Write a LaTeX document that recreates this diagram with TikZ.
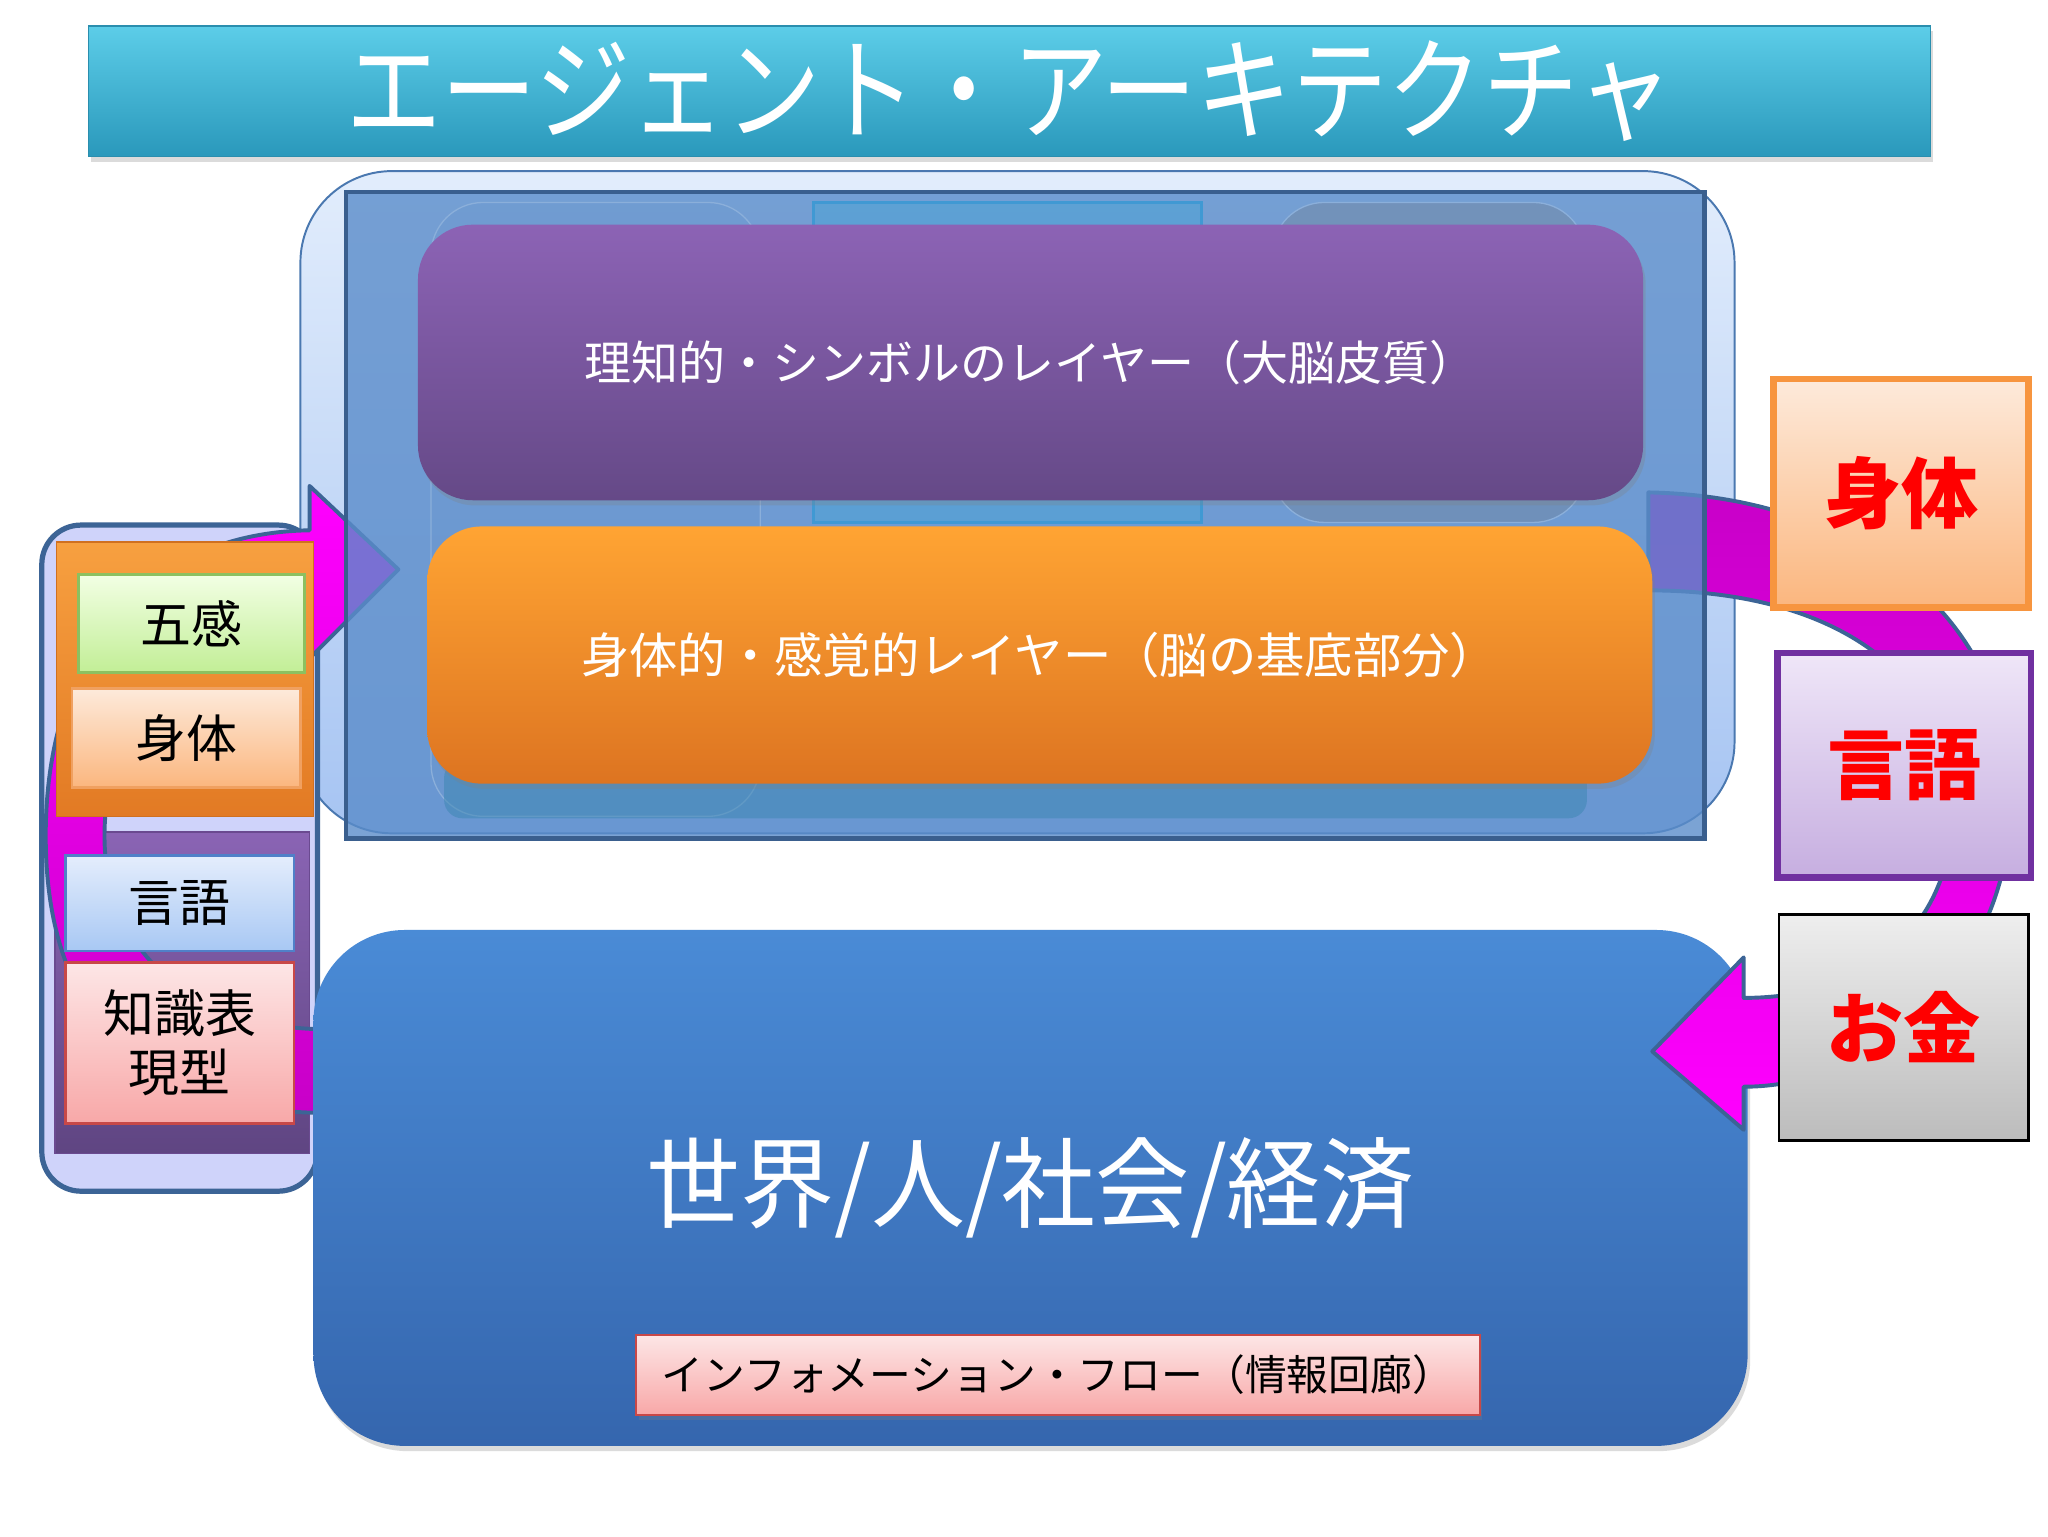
\documentclass[tikz,border=0pt]{standalone}
\usepackage{fontspec}
\setmainfont{Noto Sans CJK JP}
\usetikzlibrary{shadows}
\definecolor{edgeblue}{HTML}{3C6496}
\definecolor{titletop}{HTML}{5CCDE8}
\definecolor{titlebot}{HTML}{2A98BB}
\definecolor{titleedge}{HTML}{2A8EAE}
\definecolor{outertop}{HTML}{E2EDFC}
\definecolor{outerbot}{HTML}{A6C4F2}
\definecolor{outeredge}{HTML}{4A78B0}
\definecolor{lavender}{HTML}{CFD3FA}
\definecolor{lpurptop}{HTML}{8A64B4}
\definecolor{lpurpbot}{HTML}{5F4582}
\definecolor{lpurpedge}{HTML}{6A4A90}
\definecolor{lorangetop}{HTML}{F7A040}
\definecolor{lorangebot}{HTML}{E27A24}
\definecolor{lorangeedge}{HTML}{D07020}
\definecolor{greentop}{HTML}{F2FFE4}
\definecolor{greenbot}{HTML}{C2EE96}
\definecolor{greenedge}{HTML}{8CC060}
\definecolor{peachtop}{HTML}{FDEADB}
\definecolor{peachbot}{HTML}{FBB67E}
\definecolor{peachedge}{HTML}{F0A060}
\definecolor{bluetop}{HTML}{E4EDFC}
\definecolor{bluebot}{HTML}{A8C8F4}
\definecolor{bluebedge}{HTML}{5080C8}
\definecolor{pinktop}{HTML}{FDE6E6}
\definecolor{pinkbot}{HTML}{F8A8A8}
\definecolor{pinkedge}{HTML}{C84848}
\definecolor{worldtop}{HTML}{4A8BD6}
\definecolor{worldbot}{HTML}{3566AE}
\definecolor{brainfill}{HTML}{5A8CCA}
\definecolor{brainedge}{HTML}{3A5F8E}
\definecolor{cortextop}{HTML}{8C63B5}
\definecolor{cortexbot}{HTML}{654987}
\definecolor{basetop}{HTML}{FFA433}
\definecolor{basebot}{HTML}{DD7421}
\definecolor{magbright}{HTML}{FF00FF}
\definecolor{magdark}{HTML}{C800C8}
\definecolor{bodyedge}{HTML}{F7953F}
\definecolor{langtop}{HTML}{EFE6F8}
\definecolor{langbot}{HTML}{C6AEE0}
\definecolor{langedge}{HTML}{7030A0}
\definecolor{moneytop}{HTML}{EEEEEE}
\definecolor{moneybot}{HTML}{BCBCBC}
\definecolor{redtext}{HTML}{FF0000}
\begin{document}
\begin{tikzpicture}[x=1pt,y=-1pt,
  box/.style={rectangle, inner sep=0pt, outer sep=0pt},
  softshadow/.style={drop shadow={shadow xshift=2pt, shadow yshift=-4pt, opacity=0.28}},
  jp/.style={font=\fontsize{#1}{#1}\selectfont},
  jpb/.style={font=\fontsize{#1}{#1}\selectfont\bfseries},
  arrowband/.style={draw=edgeblue, line width=3, line join=round},
  smallbox/.style={box, line width=2, minimum width=175, text=black, jp=39},
  bigbox/.style={box, line width=5, text=redtext, jpb=59},
  ghost/.style={box, line width=1}
]
\fill[white] (0,0) rectangle (1568,1176);
\useasboundingbox (0,0) rectangle (1568,1176);

% title bar
\node[box, top color=titletop, bottom color=titlebot, draw=titleedge, line width=1,
      minimum width=1410, minimum height=100, softshadow, text=white, jp=73] (title) at (773,70)
      {\scalebox{1}[1.18]{エージェント・アーキテクチャ}};

% outer light-blue frame
\node[box, rounded corners=70, top color=outertop, bottom color=outerbot, draw=outeredge,
      line width=1.5, minimum width=1098, minimum height=507] (outer) at (779,384.5) {};

% left panel
\node[box, rounded corners=30, fill=lavender, draw=edgeblue, line width=4,
      minimum width=211, minimum height=510] (panel) at (137.5,657) {};
\node[box, top color=lpurptop, bottom color=lpurpbot, draw=lpurpedge, line width=1,
      minimum width=195, minimum height=246] (lpurp) at (139.5,760) {};

% left curved arrow
\path[arrowband, top color=magbright, bottom color=magdark]
  (250,852) .. controls (90,852) and (35,760) .. (35,640)
  .. controls (35,500) and (110,408) .. (237,406)
  -- (237,372) -- (305,436) -- (237,504) -- (237,470)
  .. controls (150,472) and (80,545) .. (80,640)
  .. controls (80,730) and (150,788) .. (250,788) -- cycle;

\node[box, top color=lorangetop, bottom color=lorangebot, draw=lorangeedge, line width=1,
      minimum width=197, minimum height=210] (lorange) at (141.5,520) {};
\node[smallbox, top color=greentop, bottom color=greenbot, draw=greenedge,
      minimum width=173, minimum height=75] (gokan) at (146.5,477.5) {五感};
\node[smallbox, top color=peachtop, bottom color=peachbot, draw=peachedge,
      minimum height=76] (bodysmall) at (142.5,565) {身体};
\node[smallbox, top color=bluetop, bottom color=bluebot, draw=bluebedge,
      minimum height=73] (langsmall) at (137.5,691.5) {言語};
\node[smallbox, top color=pinktop, bottom color=pinkbot, draw=pinkedge,
      minimum height=123, align=center, font=\fontsize{39}{45}\selectfont] (knowledge) at (137.5,798.5)
      {知識表\\現型};

% world box
\node[box, rounded corners=70, top color=worldtop, bottom color=worldbot,
      minimum width=1098, minimum height=395, softshadow, text=white, jp=72] (world) at (789,909.5)
      {\scalebox{1}[1.05]{世界/人/社会/経済}};
\node[box, top color=pinktop, bottom color=pinkbot, draw=pinkedge, line width=1.5,
      minimum width=646, minimum height=61, text=black, jp=32, softshadow] (info) at (810,1052.5)
      {インフォメーション・フロー（情報回廊）};

% right curved arrow
\path[arrowband, top color=magdark, bottom color=magbright]
  (1262,377) .. controls (1430,380) and (1540,480) .. (1540,610)
  .. controls (1540,740) and (1440,832) .. (1335,832)
  -- (1335,865) -- (1265,805) -- (1335,733) -- (1335,764)
  .. controls (1440,764) and (1495,700) .. (1495,620)
  .. controls (1495,520) and (1410,452) .. (1262,452) -- cycle;

% translucent brain block
\node[box, fill=brainfill, fill opacity=0.8, draw=brainedge, draw opacity=1, line width=3.5,
      minimum width=1040, minimum height=495] (brain) at (785,394.5) {};
\node[ghost, rounded corners=40, fill=brainfill!90!white, fill opacity=0.35, draw=brainfill!70!white,
      minimum width=252, minimum height=470] (ghostleft) at (456,390) {};
\node[ghost, fill=brainfill!80!cyan, fill opacity=0.5, draw=bluebedge!80!cyan, line width=2.5,
      minimum width=297, minimum height=245] (ghostmid) at (771.5,277.5) {};
\node[ghost, rounded corners=40, fill=gray!60!brainfill, fill opacity=0.45, draw=brainfill!70!white,
      minimum width=240, minimum height=245] (ghostright) at (1094,277.5) {};
\node[ghost, rounded corners=14, fill=teal!30!brainfill, fill opacity=0.55,
      minimum width=875, minimum height=45] (ghostbottom) at (777.5,604) {};

% layer boxes
\node[box, rounded corners=42, top color=cortextop, bottom color=cortexbot, softshadow,
      minimum width=938, minimum height=211, text=white, jp=36] (cortex) at (789,277.5)
      {理知的・シンボルのレイヤー（大脳皮質）};
\node[box, rounded corners=42, top color=basetop, bottom color=basebot, softshadow,
      minimum width=938, minimum height=197, text=white, jp=37] (base) at (796,501.5)
      {身体的・感覚的レイヤー（脳の基底部分）};

% right boxes
\node[bigbox, top color=peachtop, bottom color=peachbot, draw=bodyedge,
      minimum width=195, minimum height=175] (body) at (1455.5,377.5) {身体};
\node[bigbox, top color=langtop, bottom color=langbot, draw=langedge,
      minimum width=194, minimum height=172] (lang) at (1458,586) {言語};
\node[bigbox, top color=moneytop, bottom color=moneybot, draw=black, line width=2,
      minimum width=191, minimum height=173] (money) at (1457.5,786.5) {お金};
\end{tikzpicture}
\end{document}
